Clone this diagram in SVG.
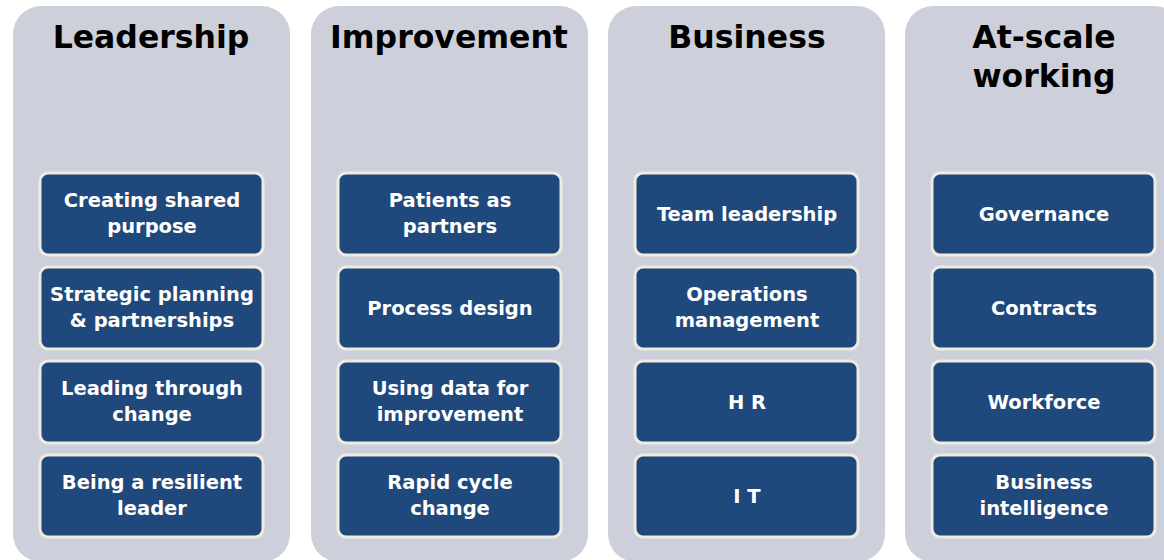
<svg xmlns="http://www.w3.org/2000/svg" width="1164" height="560" viewBox="0 0 1164 560">
<style>
.panel{fill:#CDD0DA;}
.title{font-family:"DejaVu Sans","Liberation Sans",sans-serif;font-weight:700;font-size:31.5px;fill:#000;text-anchor:middle;}
.box{fill:#1F497D;stroke:#EEECE1;stroke-width:3;}
.lbl{font-family:"DejaVu Sans","Liberation Sans",sans-serif;font-weight:700;font-size:19.5px;fill:#fff;text-anchor:middle;}
</style>
<rect width="1164" height="560" fill="#fff"/>
<g id="col-leadership">
<rect class="panel" x="13" y="6" width="277" height="556" rx="28"/>
<text class="title" x="151" y="48">Leadership</text>
<g id="n-creating"><rect class="box" x="40" y="173" width="223" height="82" rx="8"/><text class="lbl" x="152" y="207">Creating shared</text><text class="lbl" x="152" y="233">purpose</text></g>
<g id="n-strategic"><rect class="box" x="40" y="267" width="223" height="82" rx="8"/><text class="lbl" x="152" y="301">Strategic planning</text><text class="lbl" x="152" y="327">&amp; partnerships</text></g>
<g id="n-leading"><rect class="box" x="40" y="361" width="223" height="82" rx="8"/><text class="lbl" x="152" y="395">Leading through</text><text class="lbl" x="152" y="421">change</text></g>
<g id="n-resilient"><rect class="box" x="40" y="455" width="223" height="82" rx="8"/><text class="lbl" x="152" y="489">Being a resilient</text><text class="lbl" x="152" y="515">leader</text></g>
</g>
<g id="col-improvement">
<rect class="panel" x="311" y="6" width="277" height="556" rx="28"/>
<text class="title" x="449" y="48">Improvement</text>
<g id="n-patients"><rect class="box" x="338" y="173" width="223" height="82" rx="8"/><text class="lbl" x="450" y="207">Patients as</text><text class="lbl" x="450" y="233">partners</text></g>
<g id="n-process"><rect class="box" x="338" y="267" width="223" height="82" rx="8"/><text class="lbl" x="450" y="315">Process design</text></g>
<g id="n-data"><rect class="box" x="338" y="361" width="223" height="82" rx="8"/><text class="lbl" x="450" y="395">Using data for</text><text class="lbl" x="450" y="421">improvement</text></g>
<g id="n-rapid"><rect class="box" x="338" y="455" width="223" height="82" rx="8"/><text class="lbl" x="450" y="489">Rapid cycle</text><text class="lbl" x="450" y="515">change</text></g>
</g>
<g id="col-business">
<rect class="panel" x="608" y="6" width="277" height="556" rx="28"/>
<text class="title" x="747" y="48">Business</text>
<g id="n-team"><rect class="box" x="635" y="173" width="223" height="82" rx="8"/><text class="lbl" x="747" y="221">Team leadership</text></g>
<g id="n-ops"><rect class="box" x="635" y="267" width="223" height="82" rx="8"/><text class="lbl" x="747" y="301">Operations</text><text class="lbl" x="747" y="327">management</text></g>
<g id="n-hr"><rect class="box" x="635" y="361" width="223" height="82" rx="8"/><text class="lbl" x="747" y="409">H R</text></g>
<g id="n-it"><rect class="box" x="635" y="455" width="223" height="82" rx="8"/><text class="lbl" x="747" y="503">I T</text></g>
</g>
<g id="col-atscale">
<rect class="panel" x="905" y="6" width="277" height="556" rx="28"/>
<text class="title" x="1044" y="48">At-scale</text>
<text class="title" x="1044" y="87">working</text>
<g id="n-gov"><rect class="box" x="932" y="173" width="223" height="82" rx="8"/><text class="lbl" x="1044" y="221">Governance</text></g>
<g id="n-contracts"><rect class="box" x="932" y="267" width="223" height="82" rx="8"/><text class="lbl" x="1044" y="315">Contracts</text></g>
<g id="n-workforce"><rect class="box" x="932" y="361" width="223" height="82" rx="8"/><text class="lbl" x="1044" y="409">Workforce</text></g>
<g id="n-bi"><rect class="box" x="932" y="455" width="223" height="82" rx="8"/><text class="lbl" x="1044" y="489">Business</text><text class="lbl" x="1044" y="515">intelligence</text></g>
</g>
<g id="connectors"/>
</svg>
